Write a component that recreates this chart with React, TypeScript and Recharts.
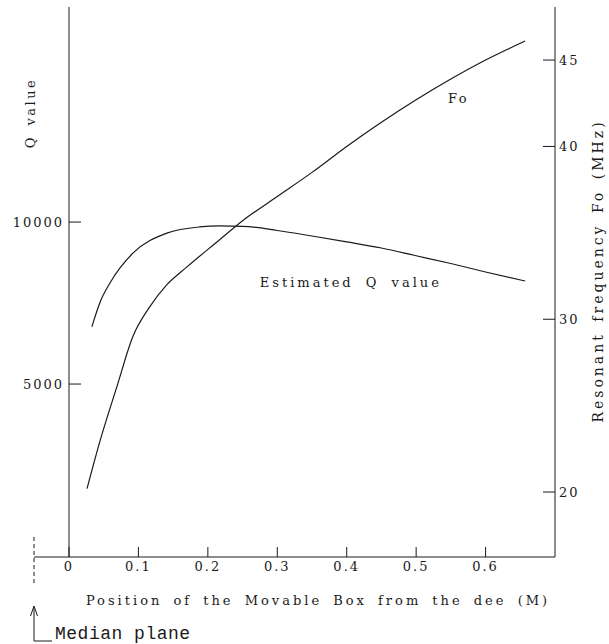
import { LineChart, Line, XAxis, YAxis, ReferenceDot } from 'recharts';

// position of the movable box from the dee (M)
const positionTicks = [0, 0.1, 0.2, 0.3, 0.4, 0.5, 0.6];
const qTicks = [5000, 10000];
const freqTicks = [20, 30, 40, 45];

// Estimated Q value curve
const qPosition = [0.033, 0.045, 0.059, 0.092, 0.141, 0.188, 0.217, 0.25, 0.3, 0.35, 0.4, 0.45, 0.5, 0.55, 0.6, 0.657];
const qValue = [6770, 7540, 8120, 9040, 9660, 9850, 9880, 9870, 9740, 9570, 9390, 9200, 8960, 8720, 8460, 8180];

// Resonant frequency Fo curve (MHz)
const foPosition = [0.026, 0.045, 0.069, 0.092, 0.116, 0.141, 0.169, 0.217, 0.25, 0.3, 0.35, 0.4, 0.45, 0.5, 0.55, 0.6, 0.657];
const foFrequency = [20.2, 23.0, 26.1, 29.0, 30.7, 32.0, 33.0, 34.6, 35.7, 37.1, 38.5, 40.0, 41.4, 42.7, 43.9, 45.0, 46.1];

const qData = qPosition.map((x, i) => ({ x, q: qValue[i] }));
const foData = foPosition.map((x, i) => ({ x, fo: foFrequency[i] }));

const INK = '#1a1a1a';
const tickStyle = { fill: INK, fontSize: 13 };

// text placed relative to the label's viewBox (axis box or reference dot)
const textAt = (
  text: string,
  dx: number,
  dy: number,
  { angle = 0, size = 13, spacing = 2.5, words = 3 } = {}
) => (props: any) => {
  const vb = props.viewBox || {};
  const x = (vb.x ?? 0) + dx;
  const y = (vb.y ?? 0) + dy;
  return (
    <text
      x={x}
      y={y}
      fill={INK}
      fontSize={size}
      textAnchor="middle"
      dominantBaseline="central"
      style={{ letterSpacing: `${spacing}px`, wordSpacing: `${words}px` }}
      transform={angle ? `rotate(${angle} ${x} ${y})` : undefined}
    >
      {text}
    </text>
  );
};

export default function App() {
  return (
    <div
      style={{
        position: 'absolute',
        left: 0,
        top: 0,
        width: 609,
        height: 644,
        background: '#fff',
        fontFamily: '"DejaVu Serif", serif',
        letterSpacing: '2px',
      }}
    >
      <LineChart width={609} height={644} margin={{ top: 7, right: 0, bottom: 27, left: 0 }}>
        <XAxis
          xAxisId="b"
          type="number"
          dataKey="x"
          domain={[0, 0.7]}
          ticks={positionTicks}
          allowDataOverflow
          height={60}
          stroke={INK}
          tickSize={-10}
          tickMargin={15}
          tick={tickStyle}
          label={{
            content: textAt('Position of the Movable Box from the dee (M)', 249, 43, { spacing: 3, words: 4 }),
          }}
        />
        <XAxis
          xAxisId="t"
          orientation="top"
          type="number"
          domain={[0, 0.7]}
          height={0}
          tick={false}
          tickLine={false}
          stroke={INK}
        />
        <YAxis
          yAxisId="q"
          type="number"
          domain={[-340, 16640]}
          ticks={qTicks}
          width={69}
          stroke={INK}
          tickSize={-12}
          tickMargin={17}
          tick={tickStyle}
          label={{ content: textAt('Q value', 30, 106, { angle: -90, spacing: 2.5 }) }}
        />
        <YAxis
          yAxisId="f"
          orientation="right"
          type="number"
          domain={[16.24, 48.07]}
          ticks={freqTicks}
          width={54}
          stroke={INK}
          tickSize={-12}
          tickMargin={16}
          tick={tickStyle}
          label={{
            content: textAt('Resonant frequency Fo (MHz)', 43, 264, { angle: -90, size: 14, spacing: 3, words: 3 }),
          }}
        />
        <Line
          xAxisId="b"
          yAxisId="q"
          data={qData}
          dataKey="q"
          type="monotone"
          stroke={INK}
          strokeWidth={1.2}
          dot={false}
          isAnimationActive={false}
        />
        <Line
          xAxisId="b"
          yAxisId="f"
          data={foData}
          dataKey="fo"
          type="monotone"
          stroke={INK}
          strokeWidth={1.2}
          dot={false}
          isAnimationActive={false}
        />
        <ReferenceDot
          xAxisId="b"
          yAxisId="f"
          x={0.561}
          y={42.8}
          r={0}
          stroke="none"
          label={{ content: textAt('Fo', 0, 0, { spacing: 2.5 }) }}
        />
        <ReferenceDot
          xAxisId="b"
          yAxisId="q"
          x={0.406}
          y={8148}
          r={0}
          stroke="none"
          label={{ content: textAt('Estimated Q value', 0, 0, { spacing: 3, words: 5 }) }}
        />
      </LineChart>
      <svg
        width={609}
        height={644}
        style={{ position: 'absolute', left: 0, top: 0, pointerEvents: 'none' }}
      >
        <line x1={34} y1={557} x2={69} y2={557} stroke={INK} strokeWidth={1} />
        <line x1={34} y1={537} x2={34} y2={583} stroke={INK} strokeWidth={1} strokeDasharray="4 3" />
        <line x1={34} y1={607} x2={34} y2={641} stroke={INK} strokeWidth={1} />
        <polyline points="30.5,616 34,606 37.5,616" fill="none" stroke={INK} strokeWidth={1} />
        <line x1={34} y1={641} x2={52} y2={641} stroke={INK} strokeWidth={1} />
        <text
          x={55}
          y={639}
          fill={INK}
          fontSize={18}
          style={{ fontFamily: '"Liberation Mono", monospace', letterSpacing: '0.5px' }}
        >
          Median plane
        </text>
      </svg>
    </div>
  );
}
